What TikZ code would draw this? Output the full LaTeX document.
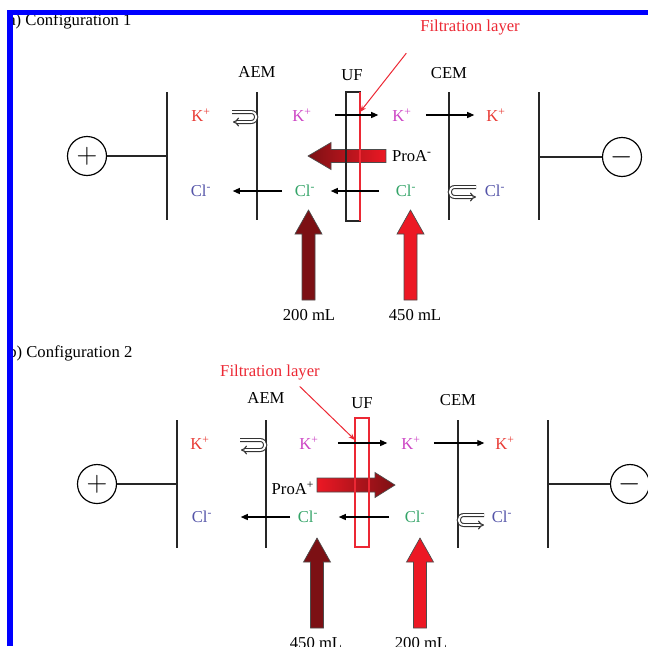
\documentclass[tikz,border=0pt]{standalone}
\usepackage{fontspec}
\setmainfont{Liberation Serif}
\usepackage{xcolor}
\usetikzlibrary{arrows.meta, calc}

\definecolor{kred}{RGB}{232,58,52}
\definecolor{kmag}{RGB}{204,68,196}
\definecolor{clblue}{RGB}{84,84,168}
\definecolor{clgreen}{RGB}{52,164,104}
\definecolor{filtred}{RGB}{236,40,52}
\definecolor{flowdark}{RGB}{124,16,20}
\definecolor{flowred}{RGB}{236,24,36}
\definecolor{frameblue}{RGB}{0,0,255}

\newlength\pxu
\setlength\pxu{0.6pt}

\begin{document}
\begin{tikzpicture}[x=0.6pt, y=-0.6pt,
  lbl/.style={font=\fontsize{10}{12}\selectfont, inner sep=0pt},
  memb/.style={line width=0.8pt, black!85},
  elec/.style={circle, draw, line width=0.7pt, minimum size=39\pxu, inner sep=0pt,
               font=\fontsize{16}{16}\selectfont},
  ionarr/.style={-{Triangle[length=4.2pt, width=3.6pt]}, line width=0.7pt},
  reject/.style={double, double distance=1.1pt, line width=0.65pt, -{Implies}, black!80},
  filt/.style={-{Stealth[length=4pt, width=3pt]}, line width=0.6pt, filtred},
  flow/.style={draw=black!70, line width=0.4pt}
]
  \useasboundingbox (0,0) rectangle (648,646);

  % (a) configuration 1
  \node[lbl, anchor=base west] (cap1) at (8,25) {a) Configuration 1};
  \node[lbl] (aem1) at (257,72) {AEM};
  \node[lbl] (uf1)  at (352,75) {UF};
  \node[lbl] (cem1) at (449,73) {CEM};

  \draw[memb] (167,92) -- (167,220);
  \draw[memb] (257,92) -- (257,220);
  \draw[memb] (449,92) -- (449,220);
  \draw[memb] (539,92) -- (539,220);

  \node[elec] (pos1) at (87,156)  {$+$};
  \node[elec] (neg1) at (622,157) {$-$};
  \coordinate (eL1) at (167,156);
  \coordinate (eR1) at (539,157);
  \draw[memb] (pos1) -- (eL1);
  \draw[memb] (neg1) -- (eR1);

  \shadedraw[flow, left color=flowdark, right color=flowred]
    (386,149.5) -- (331,149.5) -- (331,142.5) -- (308,156) -- (331,169.5)
    -- (331,162.5) -- (386,162.5) -- cycle;
  \node[lbl] (pro1) at (412,156) {ProA\textsuperscript{-}};

  \draw[memb, line width=0.7pt] (346,92) rectangle (360,221);
  \draw[filtred, line width=0.8pt] (360,92) -- (360,221);

  \node[lbl, kred]    (kL1)  at (201,115) {K\textsuperscript{+}};
  \node[lbl, kmag]    (kA1)  at (302,115) {K\textsuperscript{+}};
  \node[lbl, kmag]    (kB1)  at (402,115) {K\textsuperscript{+}};
  \node[lbl, kred]    (kR1)  at (496,115) {K\textsuperscript{+}};
  \node[lbl, clblue]  (clL1) at (201,191) {Cl\textsuperscript{-}};
  \node[lbl, clgreen] (clA1) at (305,191) {Cl\textsuperscript{-}};
  \node[lbl, clgreen] (clB1) at (406,191) {Cl\textsuperscript{-}};
  \node[lbl, clblue]  (clR1) at (495,191) {Cl\textsuperscript{-}};

  \draw[ionarr, shorten <=22.7\pxu, shorten >=13.7\pxu] (kA1.east) -- (kB1.west);
  \draw[ionarr, shorten <=13.7\pxu, shorten >=11.7\pxu] (kB1.east) -- (kR1.west);
  \draw[ionarr, shorten <=16.2\pxu, shorten >=15.2\pxu] (clB1.west) -- (clA1.east);
  \draw[ionarr, shorten <=12.2\pxu, shorten >=21.2\pxu] (clA1.west) -- (clL1.east);

  \draw[reject] (232,112) -- (251,112) .. controls (258,112) and (258,122) .. (251,122) -- (233,122);
  \draw[reject] (476,187) -- (455,187) .. controls (448,187) and (448,197) .. (455,197) -- (476,197);

  \node[lbl, filtred] (filt1) at (470,28) {Filtration layer};
  \coordinate (ftip1) at (360,112);
  \draw[filt, shorten <=22\pxu] (filt1.south west) -- (ftip1);

  % (b) configuration 2
  \node[lbl, anchor=base west] (cap2) at (8,357) {b) Configuration 2};
  \node[lbl] (aem2) at (266,398) {AEM};
  \node[lbl] (uf2)  at (362,403) {UF};
  \node[lbl] (cem2) at (458,400) {CEM};

  \draw[memb] (177,420) -- (177,548);
  \draw[memb] (266,420) -- (266,548);
  \draw[memb] (458,420) -- (458,548);
  \draw[memb] (548,420) -- (548,548);

  \node[elec] (pos2) at (97,484)  {$+$};
  \node[elec] (neg2) at (630,484) {$-$};
  \coordinate (eL2) at (177,484);
  \coordinate (eR2) at (548,484);
  \draw[memb] (pos2) -- (eL2);
  \draw[memb] (neg2) -- (eR2);

  \shadedraw[flow, left color=flowred, right color=flowdark]
    (317,478) -- (375,478) -- (375,472.5) -- (395,485) -- (375,497.5)
    -- (375,492) -- (317,492) -- cycle;
  \node[lbl] (pro2) at (293,488) {ProA\textsuperscript{+}};

  \draw[filtred, line width=0.7pt] (355,418) rectangle (369,547);

  \node[lbl, kred]    (kL2)  at (200,443) {K\textsuperscript{+}};
  \node[lbl, kmag]    (kA2)  at (309,443) {K\textsuperscript{+}};
  \node[lbl, kmag]    (kB2)  at (411,443) {K\textsuperscript{+}};
  \node[lbl, kred]    (kR2)  at (505,443) {K\textsuperscript{+}};
  \node[lbl, clblue]  (clL2) at (202,517) {Cl\textsuperscript{-}};
  \node[lbl, clgreen] (clA2) at (308,517) {Cl\textsuperscript{-}};
  \node[lbl, clgreen] (clB2) at (415,517) {Cl\textsuperscript{-}};
  \node[lbl, clblue]  (clR2) at (502,517) {Cl\textsuperscript{-}};

  \draw[ionarr, shorten <=18.7\pxu, shorten >=13.7\pxu] (kA2.east) -- (kB2.west);
  \draw[ionarr, shorten <=12.7\pxu, shorten >=10.7\pxu] (kB2.east) -- (kR2.west);
  \draw[ionarr, shorten <=15.2\pxu, shorten >=20.2\pxu] (clB2.west) -- (clA2.east);
  \draw[ionarr, shorten <=7.2\pxu,  shorten >=28.2\pxu] (clA2.west) -- (clL2.east);

  \draw[reject] (240,440) -- (260,440) .. controls (267,440) and (267,450) .. (260,450) -- (241,450);
  \draw[reject] (484,515) -- (464,515) .. controls (457,515) and (457,525) .. (464,525) -- (484,525);

  \node[lbl, filtred] (filt2) at (270,373) {Filtration layer};
  \coordinate (ftip2) at (355,440);
  \draw[filt, shorten <=8\pxu] ([xshift=24\pxu]filt2.south) -- (ftip2);

  % feed streams
  \foreach \x/\tip/\col/\lx/\vol [count=\i] in {308.5/210/flowdark/309/200 mL,
      410.5/210/flowred/415/450 mL, 317/538/flowdark/316/450 mL, 420/538/flowred/421/200 mL}{
    \filldraw[flow, fill=\col] (\x-6.5,\tip+90) -- (\x-6.5,\tip+24) -- (\x-13.5,\tip+24)
      -- (\x,\tip) -- (\x+13.5,\tip+24) -- (\x+6.5,\tip+24) -- (\x+6.5,\tip+90) -- cycle;
    \node[lbl] (vol\i) at (\lx,\tip+105) {\vol};
  }

  \draw[frameblue, line width=3.3pt] (10,646) -- (10,12.5) -- (648,12.5);
\end{tikzpicture}
\end{document}
